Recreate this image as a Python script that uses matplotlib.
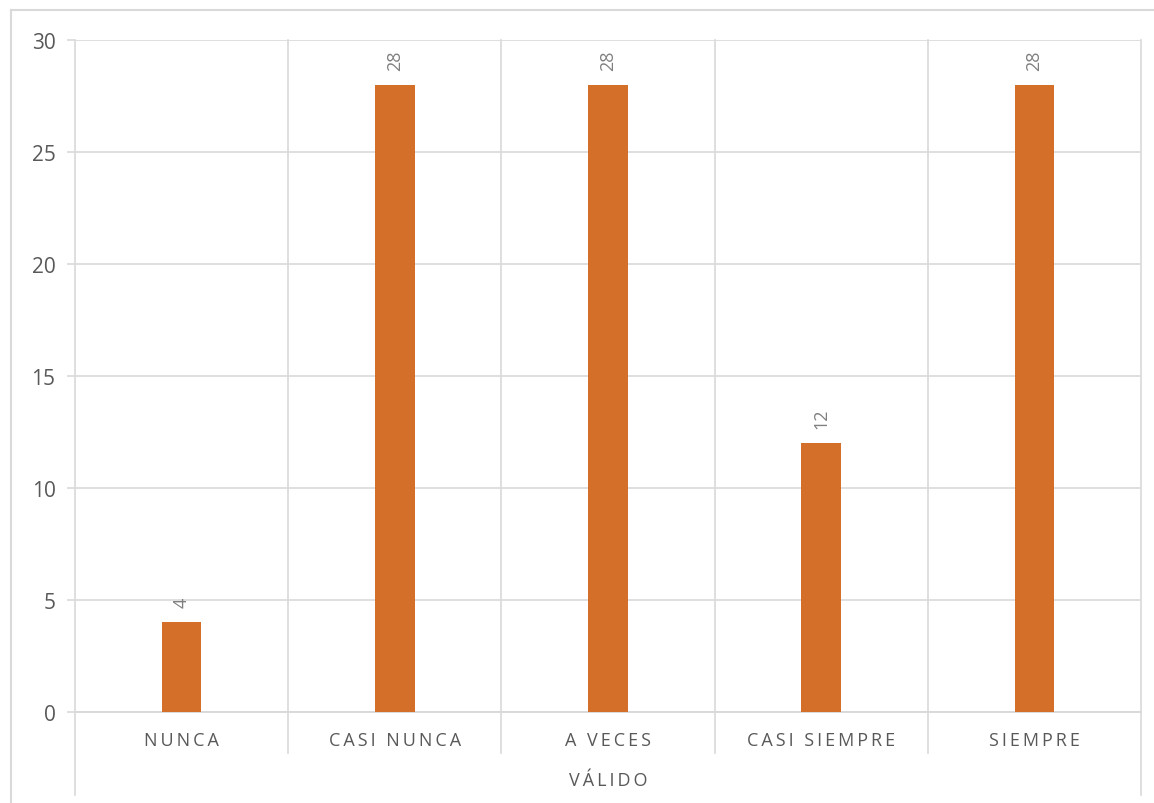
import matplotlib.pyplot as plt
from matplotlib.lines import Line2D

# datos
categorias = ["NUNCA", "CASI NUNCA", "A VECES", "CASI SIEMPRE", "SIEMPRE"]
valores = [4, 28, 28, 12, 28]
grupo = "VÁLIDO"
yticks = [0, 5, 10, 15, 20, 25, 30]

plt.rcParams['font.family'] = ['Open Sans', 'DejaVu Sans']

W, H = 1154, 804
fig = plt.figure(figsize=(W / 100, H / 100), dpi=100)

gris = '#d9d9d9'
texto = '#595959'
naranja = '#d46f2a'

# area del grafico (pixeles)
x0, x1, ytop, ybot = 75, 1141, 41, 713
ax = fig.add_axes([x0 / W, (H - ybot) / H, (x1 - x0) / W, (ybot - ytop) / H])

pos = list(range(len(categorias)))
ax.bar(pos, valores, width=0.185, color=naranja, zorder=3)

for x, v in zip(pos, valores):
    ax.annotate(str(v), (x, v), xytext=(0, 11), textcoords='offset points',
                rotation=90, ha='center', va='bottom', fontsize=13, color='#7f7f7f')

ax.set_xlim(-0.5, len(categorias) - 0.5)
ax.set_ylim(0, 30)
ax.set_yticks(yticks)
ax.set_yticklabels([str(t) for t in yticks], fontsize=15, color=texto)
ax.tick_params(axis='y', length=6, color=gris, width=1.2, pad=8)
ax.set_xticks([])
ax.grid(axis='y', color=gris, linewidth=1.2, zorder=0)
for s in ax.spines.values():
    s.set_visible(False)

# separadores de categorias
trans = ax.get_xaxis_transform()
bajo_cat = -(754 - ybot) / (ybot - ytop)
bajo_grp = -(796 - ybot) / (ybot - ytop)
for i in range(len(categorias) + 1):
    b = bajo_grp if i in (0, len(categorias)) else bajo_cat
    ax.add_line(Line2D([i - 0.5, i - 0.5], [1, b], transform=trans, color=gris,
                       linewidth=1.2, clip_on=False, zorder=1))
ax.add_line(Line2D([-0.5, len(categorias) - 0.5], [0, 0], transform=trans, color=gris,
                   linewidth=1.4, clip_on=False, zorder=2))

# etiquetas de categoria con espaciado
y_cat = -(741 - ybot) / (ybot - ytop)
for x, c in zip(pos, categorias):
    ax.text(x, y_cat, "\u2009".join(c), transform=trans, ha='center', va='center',
            fontsize=13, color=texto)
y_grp = -(781 - ybot) / (ybot - ytop)
ax.text(0.5, y_grp, "\u2009".join(grupo), transform=ax.transAxes, ha='center',
        va='center', fontsize=13, color=texto)

# borde exterior
fig.add_artist(Line2D([11 / W, 11 / W], [0, 1 - 11 / H], transform=fig.transFigure,
                      color=gris, linewidth=1.5))
fig.add_artist(Line2D([11 / W, 1], [1 - 11 / H, 1 - 11 / H], transform=fig.transFigure,
                      color=gris, linewidth=1.5))

fig.savefig("out.png", dpi=100)
